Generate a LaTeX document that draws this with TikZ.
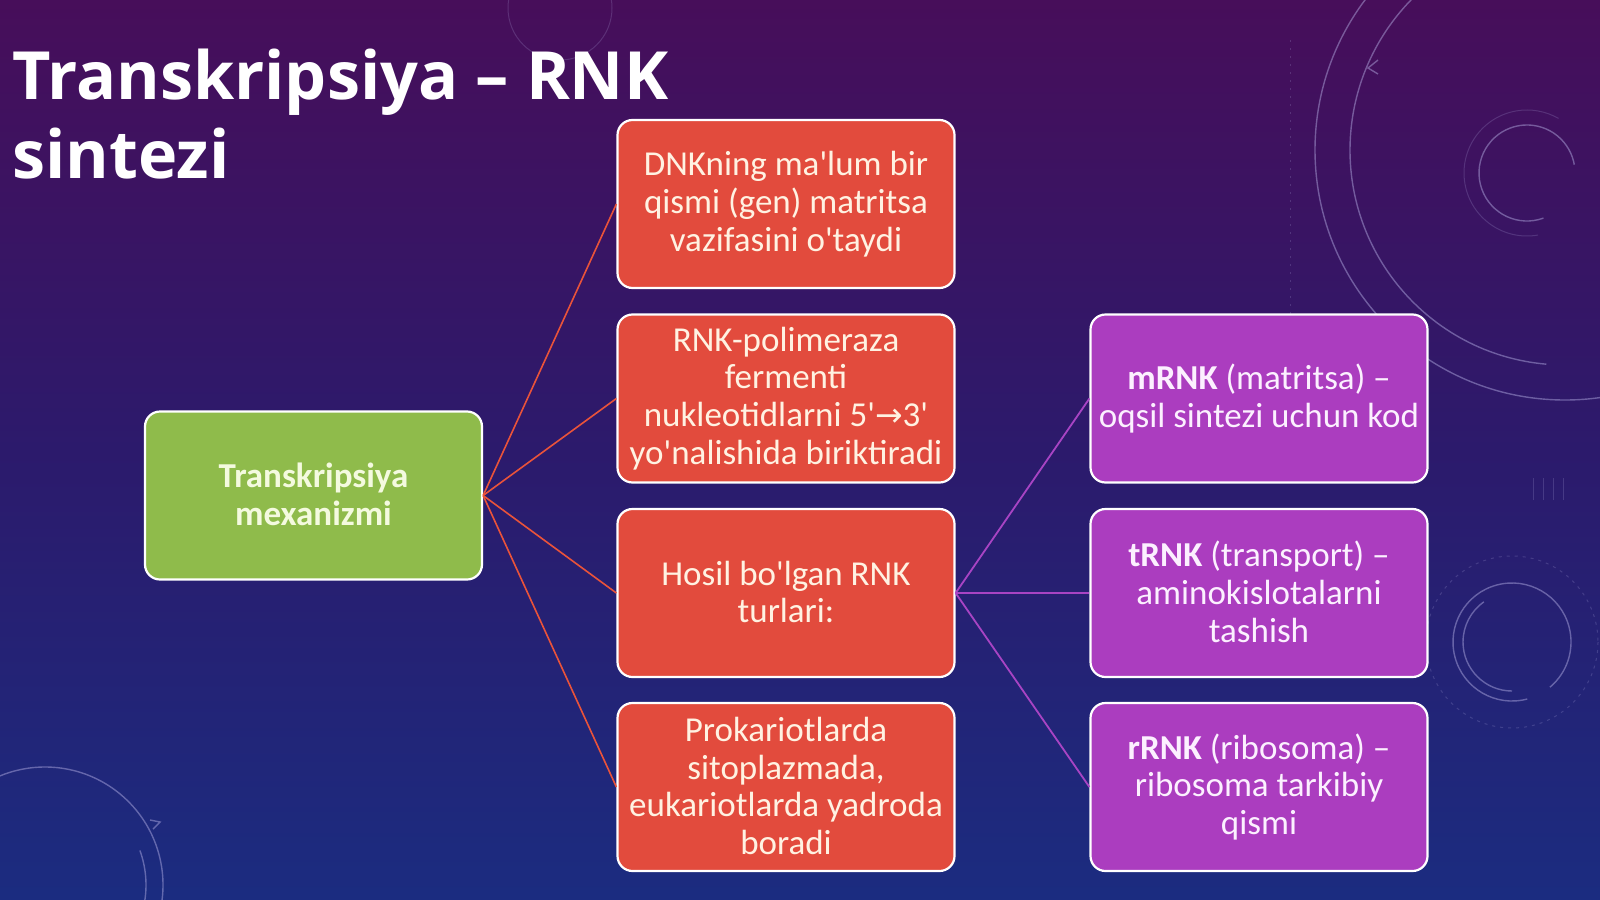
\documentclass[tikz,border=0pt]{standalone}
\usepackage{fontspec}
\newfontfamily\boxfont{Carlito}
\newfontfamily\titlefont{Open Sans}
\newfontfamily\symfont{DejaVu Sans}
\newcommand{\boxstrut}{\rule[-2.3pt]{0pt}{37.8pt}}
\definecolor{bgtop}{HTML}{470E5A}
\definecolor{bgmid}{HTML}{2C1A6C}
\definecolor{bgbot}{HTML}{1B2C80}
\definecolor{greenfill}{HTML}{8FBB4B}
\definecolor{greentext}{HTML}{F4FADF}
\definecolor{redfill}{HTML}{E24B3D}
\definecolor{redtext}{HTML}{FFF2E2}
\definecolor{purplefill}{HTML}{AB3DBF}
\definecolor{purpletext}{HTML}{FCF0FF}
\definecolor{redline}{HTML}{EA533A}
\definecolor{purpleline}{HTML}{A844C4}
\definecolor{deco}{HTML}{B9B4E8}
\begin{document}
\begin{tikzpicture}[x=1pt,y=-1pt,
  box/.style={draw=white, line width=2.2pt, rounded corners=15pt,
    minimum width=337pt, minimum height=168pt, inner sep=0pt, align=center,
    font=\boxfont\fontsize{35}{37.8}\selectfont,
    execute at begin node=\boxstrut, execute at end node=\boxstrut},
  greenbox/.style={box, fill=greenfill, text=greentext, font=\boxfont\bfseries\fontsize{35}{37.8}\selectfont},
  redbox/.style={box, fill=redfill, text=redtext},
  purplebox/.style={box, fill=purplefill, text=purpletext},
  redconn/.style={draw=redline, line width=1.6pt},
  purpleconn/.style={draw=purpleline, line width=1.8pt},
  titletext/.style={anchor=base west, inner sep=0pt, text=white,
    font=\titlefont\bfseries\fontsize{66.5}{79}\selectfont},
  decoline/.style={draw=deco, line width=1.4pt, opacity=0.45},
  decofaint/.style={draw=deco, line width=1pt, opacity=0.2}
]
% background
\shade[top color=bgtop, bottom color=bgbot, middle color=bgmid] (0,0) rectangle (1600,899);
\useasboundingbox (0,0) rectangle (1600,899);
\begin{scope}
\clip (0,0) rectangle (1600,899);
% top-right decoration
\draw[decoline] (1565,150) circle[radius=250];
\draw[decoline] (1565,150) ++(95:215) arc[start angle=95, end angle=250, radius=215];
\draw[decoline] (1527,173) ++(70:48) arc[start angle=70, end angle=350, radius=48];
\draw[decofaint] (1527,173) ++(80:63) arc[start angle=80, end angle=300, radius=63];
\draw[decoline] (1378,60) -- (1368,68) -- (1378,74);
\draw[decofaint, dash pattern=on 2pt off 6pt] (1290,40) -- (1290,330);
% middle-right decoration
\draw[decoline] (1512,642) ++(75:59) arc[start angle=75, end angle=410, radius=59];
\draw[decoline] (1512,642) ++(90:49) arc[start angle=90, end angle=235, radius=49];
\draw[decofaint, dash pattern=on 3pt off 5pt] (1512,642) circle[radius=86];
\draw[decofaint] (1533,478) -- (1533,500) (1543,478) -- (1543,500) (1553,478) -- (1553,500) (1563,478) -- (1563,500);
% bottom-left decoration
\draw[decoline] (45,885) circle[radius=118];
\draw[decoline] (45,885) ++(100:101) arc[start angle=100, end angle=-20, radius=101];
\draw[decoline] (150,820) -- (160,822) -- (153,829);
% top-centre faint circle
\draw[decofaint] (560,8) circle[radius=52];
\end{scope}

% title
\node[titletext] (title1) at (12,99) {Transkripsiya – RNK};
\node[titletext] (title2) at (12,178) {sintezi};

% nodes
\node[greenbox] (mech) at (313.5,495.5) {Transkripsiya\\mexanizmi};
\node[redbox] (r1) at (786,204) {DNKning ma'lum bir\\qismi (gen) matritsa\\vazifasini o'taydi};
\node[redbox] (r2) at (786,398.5) {RNK-polimeraza\\fermenti\\nukleotidlarni 5'{\symfont\fontsize{33}{37.8}\selectfont →}3'\\yo'nalishida biriktiradi};
\node[redbox] (r3) at (786,593) {Hosil bo'lgan RNK\\turlari:};
\node[redbox] (r4) at (786,787) {Prokariotlarda\\sitoplazmada,\\eukariotlarda yadroda\\boradi};
\node[purplebox] (p1) at (1259,398.5) {\textbf{mRNK} (matritsa) –\\oqsil sintezi uchun kod};
\node[purplebox] (p2) at (1259,593) {\textbf{tRNK} (transport) –\\aminokislotalarni\\tashish};
\node[purplebox] (p3) at (1259,787) {\textbf{rRNK} (ribosoma) –\\ribosoma tarkibiy\\qismi};

% connectors
\foreach \t in {r1,r2,r3,r4} \draw[redconn] (mech.east) -- (\t.west);
\foreach \t in {p1,p2,p3} \draw[purpleconn] (r3.east) -- (\t.west);
\end{tikzpicture}
\end{document}
